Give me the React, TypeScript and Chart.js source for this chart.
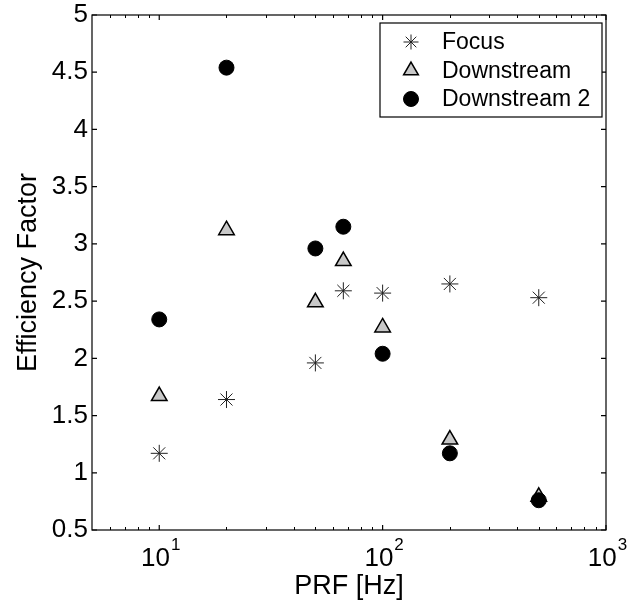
import React, { useEffect, useRef } from 'react';
import { Chart, registerables } from 'chart.js';
import { drawPoint } from 'chart.js/helpers';

Chart.register(...registerables);

// ---- data ----
const prf = [10, 20, 50, 66.7, 100, 200, 500];
const focus = [1.17, 1.64, 1.96, 2.59, 2.57, 2.65, 2.53];
const downstream = [1.67, 3.12, 2.49, 2.85, 2.27, 1.29, 0.79];
const downstream2 = [2.34, 4.54, 2.96, 3.15, 2.04, 1.17, 0.76];
const seriesLabels = ['Focus', 'Downstream', 'Downstream 2'];

const xMin = 5;
const xMax = 1000;
const xTickValues = [10, 100, 1000];
const xTickBase = '10';
const xTickExponents = ['1', '2', '3'];
const yMin = 0.5;
const yMax = 5;
const yStep = 0.5;

const xTitle = 'PRF [Hz]';
const yTitle = 'Efficiency Factor';

const FONT = "'Liberation Sans', Arial, Helvetica, sans-serif";
const TICK_SIZE = 26;
const TITLE_SIZE = 27;
const LEGEND_SIZE = 23;

const toPoints = (ys: number[]) => prf.map((x, i) => ({ x, y: ys[i] }));

const matlabAxes = {
  id: 'matlabAxes',
  afterDraw(chart: any) {
    const { ctx, chartArea } = chart;
    const xs = chart.scales.x;
    const ys = chart.scales.y;
    const { left, right, top, bottom } = chartArea;
    ctx.save();
    ctx.strokeStyle = '#000';
    ctx.lineWidth = 1.2;
    // box
    ctx.strokeRect(left, top, right - left, bottom - top);
    // y ticks (inward, both sides)
    ctx.beginPath();
    ys.ticks.forEach((t: any) => {
      const py = ys.getPixelForValue(t.value);
      ctx.moveTo(left, py);
      ctx.lineTo(left + 5, py);
      ctx.moveTo(right, py);
      ctx.lineTo(right - 5, py);
    });
    // x major ticks
    xTickValues.forEach((v) => {
      const px = xs.getPixelForValue(v);
      ctx.moveTo(px, bottom);
      ctx.lineTo(px, bottom - 5);
      ctx.moveTo(px, top);
      ctx.lineTo(px, top + 5);
    });
    ctx.stroke();
    // x minor ticks
    ctx.beginPath();
    ctx.lineWidth = 1;
    for (let dec = 1; dec <= 100; dec *= 10) {
      for (let d = 2; d <= 9; d++) {
        const v = d * dec;
        if (v <= xMin || v >= xMax) continue;
        const px = Math.round(xs.getPixelForValue(v)) + 0.5;
        ctx.moveTo(px, bottom);
        ctx.lineTo(px, bottom - 3);
        ctx.moveTo(px, top);
        ctx.lineTo(px, top + 3);
      }
    }
    ctx.stroke();

    // x tick labels 10^n
    ctx.fillStyle = '#000';
    ctx.textBaseline = 'alphabetic';
    ctx.textAlign = 'left';
    xTickValues.forEach((v, i) => {
      const px = xs.getPixelForValue(v);
      ctx.font = `${TICK_SIZE}px ${FONT}`;
      const w1 = ctx.measureText(xTickBase).width;
      ctx.font = `17px ${FONT}`;
      const w2 = ctx.measureText(xTickExponents[i]).width;
      const start = px - (w1 + w2) / 2 + 1;
      ctx.font = `${TICK_SIZE}px ${FONT}`;
      ctx.fillText(xTickBase, start, bottom + 36);
      ctx.font = `17px ${FONT}`;
      ctx.fillText(xTickExponents[i], start + w1 + 1, bottom + 20);
    });

    // legend
    const bx = 380, by = 23, bw = 222, bh = 94;
    ctx.fillStyle = '#fff';
    ctx.fillRect(bx, by, bw, bh);
    ctx.lineWidth = 1.2;
    ctx.strokeStyle = '#000';
    ctx.strokeRect(bx, by, bw, bh);
    const rowY = [42, 70.5, 99];
    chart.data.datasets.forEach((ds: any, i: number) => {
      ctx.save();
      ctx.fillStyle = ds.pointBackgroundColor;
      ctx.strokeStyle = ds.pointBorderColor;
      ctx.lineWidth = ds.pointBorderWidth;
      drawPoint(ctx, { pointStyle: ds.pointStyle, radius: ds.legendRadius, rotation: 0, borderWidth: ds.pointBorderWidth }, 411, rowY[i]);
      ctx.restore();
      ctx.fillStyle = '#000';
      ctx.font = `${LEGEND_SIZE}px ${FONT}`;
      ctx.textBaseline = 'middle';
      ctx.textAlign = 'left';
      ctx.fillText(ds.label, 442, rowY[i] + 1);
    });
    ctx.restore();
  },
};

export default function App() {
  const ref = useRef<HTMLCanvasElement | null>(null);
  useEffect(() => {
    if (!ref.current) return;
    const chart = new Chart(ref.current, {
      type: 'scatter',
      data: {
        datasets: [
          {
            label: seriesLabels[0],
            data: toPoints(focus),
            pointStyle: 'star',
            pointRadius: 8.5,
            pointBackgroundColor: '#222',
            pointBorderColor: '#222',
            pointBorderWidth: 1,
            legendRadius: 7.5,
            order: 2,
          } as any,
          {
            label: seriesLabels[1],
            data: toPoints(downstream),
            pointStyle: 'triangle',
            pointRadius: 9,
            pointBackgroundColor: '#c8c8c8',
            pointBorderColor: '#000',
            pointBorderWidth: 1.5,
            legendRadius: 8.5,
            order: 1,
          } as any,
          {
            label: seriesLabels[2],
            data: toPoints(downstream2),
            pointStyle: 'circle',
            pointRadius: 7.5,
            pointBackgroundColor: '#000',
            pointBorderColor: '#000',
            pointBorderWidth: 1,
            legendRadius: 7.5,
            order: 0,
          } as any,
        ],
      },
      options: {
        animation: false,
        responsive: true,
        maintainAspectRatio: false,
        layout: { padding: { left: 0, top: 15, right: 22, bottom: 0 } },
        plugins: {
          legend: { display: false },
          tooltip: { enabled: false },
        },
        scales: {
          x: {
            type: 'logarithmic',
            min: xMin,
            max: xMax,
            grid: { display: false, drawTicks: false },
            border: { display: false },
            ticks: { display: false },
            title: {
              display: true,
              text: xTitle,
              color: '#000',
              font: { size: TITLE_SIZE, family: FONT },
              padding: { top: 0, bottom: 3 },
            },
            afterBuildTicks: (scale: any) => {
              scale.ticks = xTickValues.map((v) => ({ value: v }));
            },
            afterFit: (scale: any) => {
              scale.height = 76;
              scale.paddingLeft = 0;
              scale.paddingRight = 0;
              scale.paddingTop = 0;
              scale.paddingBottom = 0;
            },
          },
          y: {
            min: yMin,
            max: yMax,
            grid: { display: false, drawTicks: false },
            border: { display: false },
            ticks: {
              stepSize: yStep,
              color: '#000',
              padding: 4,
              font: { size: TICK_SIZE, family: FONT },
              callback: (v: any) => String(Math.round(Number(v) * 10) / 10),
            },
            title: {
              display: true,
              text: yTitle,
              color: '#000',
              font: { size: TITLE_SIZE, family: FONT },
              padding: { top: 12, bottom: 0 },
            },
            afterFit: (scale: any) => {
              scale.width = 92;
              scale.paddingLeft = 0;
              scale.paddingRight = 0;
              scale.paddingTop = 0;
              scale.paddingBottom = 0;
            },
          },
        },
      },
      plugins: [matlabAxes],
    });
    return () => chart.destroy();
  }, []);

  return (
    <div style={{ position: 'fixed', left: 0, top: 0, width: 628, height: 606, background: '#fff' }}>
      <canvas ref={ref} />
    </div>
  );
}
